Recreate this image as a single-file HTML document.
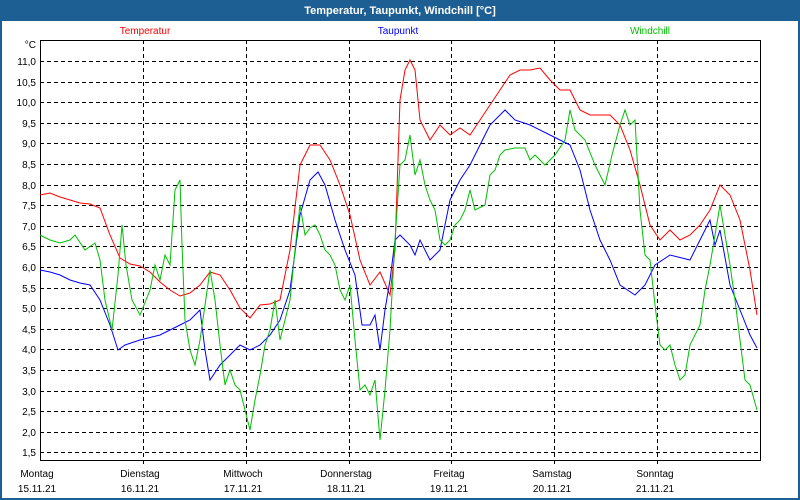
<!DOCTYPE html>
<html><head><meta charset="utf-8"><style>
body{margin:0;background:#fff;}
svg{display:block;font-family:"Liberation Sans",sans-serif;}
</style></head><body>
<svg width="800" height="500" xmlns="http://www.w3.org/2000/svg">
<rect x="0" y="0" width="800" height="500" fill="#1d5f93"/>
<rect x="2" y="21" width="796" height="477" fill="#fff"/>
<text x="400" y="14" fill="#fff" font-size="11" font-weight="bold" text-anchor="middle">Temperatur, Taupunkt, Windchill [°C]</text>
<text x="145" y="34" fill="#ff0000" font-size="10" text-anchor="middle">Temperatur</text>
<text x="398" y="34" fill="#0000ff" font-size="10" text-anchor="middle">Taupunkt</text>
<text x="650" y="34" fill="#00c000" font-size="10" text-anchor="middle">Windchill</text>
<g stroke="#000" stroke-width="1" stroke-dasharray="4,3">
<line x1="40" x2="760" y1="61.5" y2="61.5"/><line x1="40" x2="760" y1="82.5" y2="82.5"/><line x1="40" x2="760" y1="102.5" y2="102.5"/><line x1="40" x2="760" y1="123.5" y2="123.5"/><line x1="40" x2="760" y1="143.5" y2="143.5"/><line x1="40" x2="760" y1="164.5" y2="164.5"/><line x1="40" x2="760" y1="185.5" y2="185.5"/><line x1="40" x2="760" y1="205.5" y2="205.5"/><line x1="40" x2="760" y1="226.5" y2="226.5"/><line x1="40" x2="760" y1="246.5" y2="246.5"/><line x1="40" x2="760" y1="267.5" y2="267.5"/><line x1="40" x2="760" y1="288.5" y2="288.5"/><line x1="40" x2="760" y1="308.5" y2="308.5"/><line x1="40" x2="760" y1="329.5" y2="329.5"/><line x1="40" x2="760" y1="349.5" y2="349.5"/><line x1="40" x2="760" y1="370.5" y2="370.5"/><line x1="40" x2="760" y1="391.5" y2="391.5"/><line x1="40" x2="760" y1="411.5" y2="411.5"/><line x1="40" x2="760" y1="432.5" y2="432.5"/><line x1="40" x2="760" y1="452.5" y2="452.5"/>
<line x1="143.5" x2="143.5" y1="40" y2="466"/><line x1="246.5" x2="246.5" y1="40" y2="466"/><line x1="349.5" x2="349.5" y1="40" y2="466"/><line x1="451.5" x2="451.5" y1="40" y2="466"/><line x1="554.5" x2="554.5" y1="40" y2="466"/><line x1="657.5" x2="657.5" y1="40" y2="466"/>
</g>
<rect x="40.5" y="40.5" width="720" height="420" fill="none" stroke="#000" stroke-width="1"/>
<g font-size="10" fill="#000" text-anchor="end">
<text x="36" y="48">°C</text>
<text x="36" y="65">11,0</text><text x="36" y="86">10,5</text><text x="36" y="106">10,0</text><text x="36" y="127">9,5</text><text x="36" y="147">9,0</text><text x="36" y="168">8,5</text><text x="36" y="189">8,0</text><text x="36" y="209">7,5</text><text x="36" y="230">7,0</text><text x="36" y="250">6,5</text><text x="36" y="271">6,0</text><text x="36" y="292">5,5</text><text x="36" y="312">5,0</text><text x="36" y="333">4,5</text><text x="36" y="353">4,0</text><text x="36" y="374">3,5</text><text x="36" y="395">3,0</text><text x="36" y="415">2,5</text><text x="36" y="436">2,0</text><text x="36" y="456">1,5</text>
</g>
<g font-size="10" fill="#000" text-anchor="middle">
<text x="37" y="477">Montag</text><text x="37" y="492">15.11.21</text>
<text x="140" y="477">Dienstag</text><text x="140" y="492">16.11.21</text>
<text x="243" y="477">Mittwoch</text><text x="243" y="492">17.11.21</text>
<text x="346" y="477">Donnerstag</text><text x="346" y="492">18.11.21</text>
<text x="449" y="477">Freitag</text><text x="449" y="492">19.11.21</text>
<text x="552" y="477">Samstag</text><text x="552" y="492">20.11.21</text>
<text x="655" y="477">Sonntag</text><text x="655" y="492">21.11.21</text>
</g>
<polyline fill="none" stroke="#ff0000" stroke-width="1" points="40,195 50,193 60,197 70,200 80,203 90,204 100,208 110,235 120,258 130,264 140,266 150,272 160,282 170,290 180,296 190,293 200,285 210,272 220,275 230,290 240,308 250,318 260,305 270,304 280,300 290,250 300,165 310,145 320,145 330,160 340,185 350,215 360,260 370,285 380,272 390,295 395,250 400,100 405,70 410,60 415,70 420,120 430,140 440,125 450,135 460,128 470,135 480,120 490,105 500,90 510,75 520,70 530,70 540,68 550,80 560,90 570,90 580,110 590,115 600,115 610,115 620,125 630,150 640,185 650,225 660,240 670,230 680,240 690,235 700,225 710,210 720,185 730,195 740,220 750,270 757,315"/>
<polyline fill="none" stroke="#0000ff" stroke-width="1" points="40,270 50,272 60,275 70,280 80,283 90,285 100,300 110,325 118,350 125,345 140,340 160,335 180,325 190,320 200,310 205,350 210,380 220,365 230,355 240,345 250,350 260,345 270,335 280,320 290,290 300,215 310,180 318,172 325,185 335,220 345,250 355,275 362,325 370,325 375,315 380,350 385,310 390,280 395,240 400,235 410,245 415,255 420,240 430,260 440,250 450,200 460,180 470,165 480,145 490,125 500,115 505,110 515,120 530,125 550,135 570,145 580,170 590,210 600,240 610,260 620,285 635,295 645,285 655,265 670,255 690,260 700,240 710,220 715,245 720,230 730,285 740,310 750,335 757,348"/>
<polyline fill="none" stroke="#00c000" stroke-width="1" points="40,235 50,240 60,243 70,240 75,235 85,250 95,243 100,260 105,300 112,330 118,275 122,225 126,265 132,300 140,315 146,300 150,290 155,265 160,280 165,255 170,265 175,190 180,180 182,245 185,320 190,350 195,365 200,340 205,305 210,270 215,300 220,345 225,385 230,370 235,385 240,390 245,410 250,430 255,400 260,375 265,345 270,330 275,300 280,340 285,320 290,300 295,250 300,205 305,235 310,228 315,225 320,235 325,250 330,255 335,265 340,290 345,300 350,285 355,340 360,390 365,385 370,395 375,380 380,440 385,390 390,330 395,240 400,165 405,160 410,135 415,175 420,160 425,185 430,200 435,210 440,240 445,245 450,240 455,225 460,220 465,210 470,190 475,210 485,205 490,175 495,170 500,155 505,150 515,148 525,148 530,160 535,155 545,165 555,155 565,140 570,110 575,130 585,140 595,165 605,185 612,155 620,125 625,110 630,125 635,120 640,210 645,255 650,260 655,305 660,345 665,350 670,345 675,365 680,380 685,375 690,345 700,325 705,290 710,265 715,235 720,205 725,235 730,265 735,300 740,340 745,380 750,385 757,410"/>
</svg>
</body></html>
